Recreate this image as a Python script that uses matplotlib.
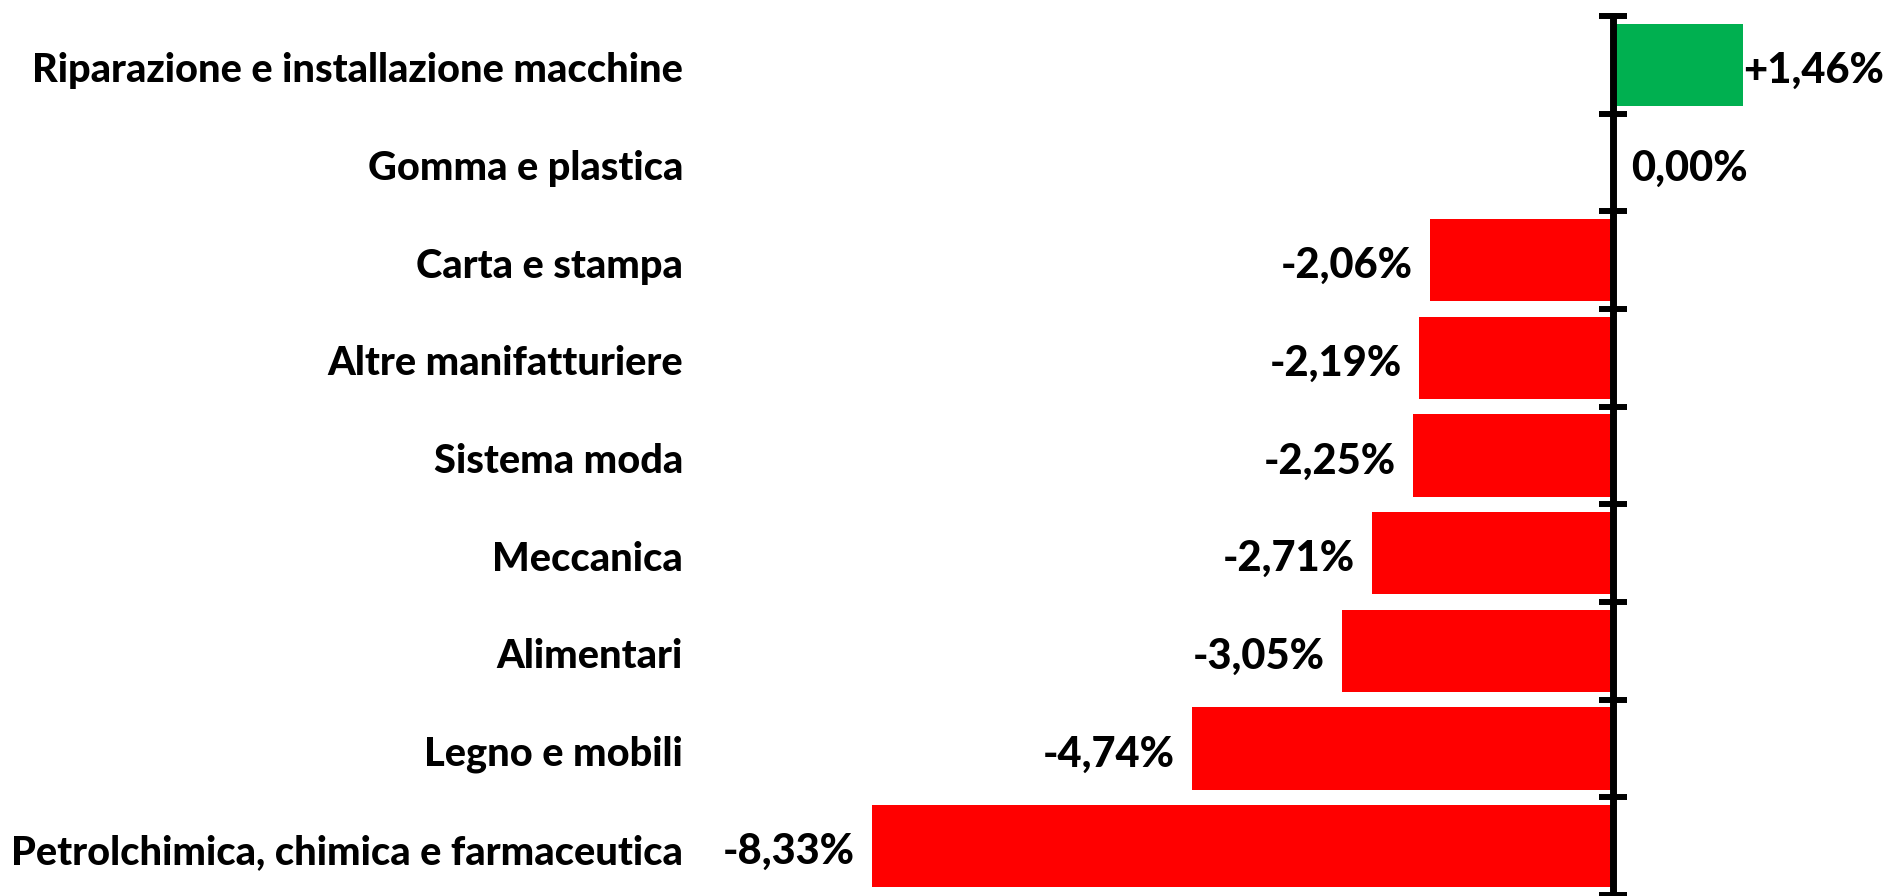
import matplotlib.pyplot as plt
from matplotlib.ticker import FixedLocator, NullLocator

# dati
settori = ['Riparazione e installazione macchine', 'Gomma e plastica', 'Carta e stampa',
           'Altre manifatturiere', 'Sistema moda', 'Meccanica', 'Alimentari',
           'Legno e mobili', 'Petrolchimica, chimica e farmaceutica']
variazioni = [1.46, 0.00, -2.06, -2.19, -2.25, -2.71, -3.05, -4.74, -8.33]
etichette = ['+1,46%', '0,00%', '-2,06%', '-2,19%', '-2,25%', '-2,71%', '-3,05%', '-4,74%', '-8,33%']

plt.rcParams['font.family'] = ['Lato', 'DejaVu Sans']

W, H = 1890, 896
fig = plt.figure(figsize=(W / 100, H / 100), dpi=100)
ax = fig.add_axes([0, 1 / H, 1, (H - 16 - 1) / H])

pxpu = 89.0   # pixel per punto percentuale
x0 = 1613.5
ax.set_xlim(-x0 / pxpu, (W - x0) / pxpu)
n = len(settori)
ax.set_ylim(n - 0.5, -0.5)

colori = ['#00B050' if v > 0 else '#FF0000' for v in variazioni]
ax.barh(range(n), variazioni, height=0.84, color=colori, zorder=1)

for s in ['top', 'right', 'bottom']:
    ax.spines[s].set_visible(False)
ax.spines['left'].set_position(('data', 0))
ax.spines['left'].set_linewidth(5.0)
ax.spines['left'].set_zorder(3)
ax.xaxis.set_major_locator(NullLocator())
ax.yaxis.set_major_locator(FixedLocator([i - 0.5 for i in range(n + 1)]))
ax.set_yticklabels([])
ax.tick_params(axis='y', direction='inout', length=19.5, width=4.3, color='black')

fs_cat = 28.6
fs_val = 30
peso = 'black'
dy = -6
for i, (s, v, e) in enumerate(zip(settori, variazioni, etichette)):
    ax.annotate(s, (683 / W, i), xycoords=ax.get_yaxis_transform(), xytext=(0, dy),
                textcoords='offset pixels', ha='right', va='center',
                fontsize=fs_cat, fontweight=peso)
    if v < 0:
        dx, ha = -17, 'right'
    elif v > 0:
        dx, ha = 0, 'left'
    else:
        dx, ha = 18, 'left'
    ax.annotate(e, (v, i), xytext=(dx, dy), textcoords='offset pixels',
                ha=ha, va='center', fontsize=fs_val, fontweight=peso)

fig.savefig('out.png', dpi=100)
